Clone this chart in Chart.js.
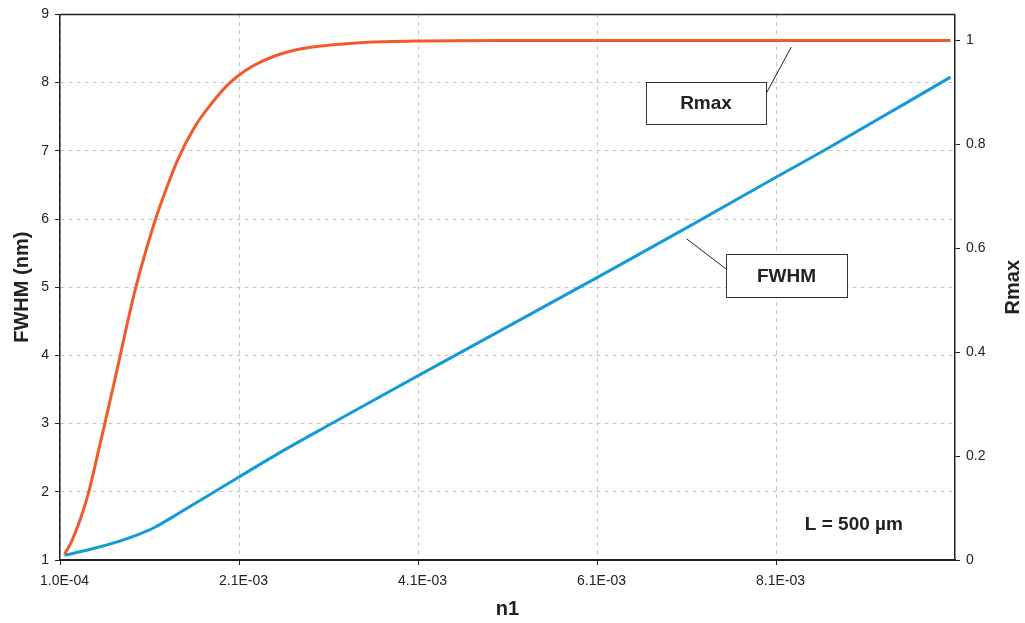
<!DOCTYPE html>
<html>
<head>
<meta charset="utf-8">
<script src="https://cdn.jsdelivr.net/npm/chart.js@4"></script>
<style>
  body { margin: 0; background: #fff; }
  canvas { display: block; }
</style>
</head>
<body>
<canvas id="fbgChart" width="1025" height="623"></canvas>
<script>
// Rmax (right axis)
const rmaxN1 = [1.0e-4, 1.8e-4, 2.9e-4, 3.7e-4, 4.8e-4, 5.5e-4, 6.6e-4, 8.9e-4, 11.1e-4,
  12.2e-4, 13.7e-4, 15.6e-4, 17.5e-4, 19.1e-4, 20.4e-4, 22.3e-4, 24.5e-4, 26.9e-4,
  30.7e-4, 34.4e-4, 40.4e-4, 50e-4, 60e-4, 70e-4, 80e-4, 90e-4, 100e-4];
const rmaxVal = [0.011, 0.036, 0.085, 0.130, 0.210, 0.262, 0.345, 0.520, 0.652,
  0.706, 0.772, 0.835, 0.880, 0.912, 0.932, 0.953, 0.970, 0.982,
  0.991, 0.996, 0.999, 1.0, 1.0, 1.0, 1.0, 1.0, 1.0];

// FWHM in nm (left axis)
const fwhmN1 = [1.0e-4, 3.7e-4, 7.0e-4, 9.0e-4, 11.1e-4, 13.2e-4, 16.1e-4, 20.4e-4, 25.4e-4, 30.7e-4,
  36.6e-4, 44.1e-4, 60.5e-4, 70.5e-4, 80.6e-4, 86.2e-4, 100e-4];
const fwhmVal = [1.07, 1.15, 1.27, 1.36, 1.48, 1.64, 1.87, 2.21, 2.60, 2.99,
  3.42, 3.96, 5.14, 5.87, 6.62, 7.03, 8.08];

const xTickValues = [0.5e-4, 20.5e-4, 40.5e-4, 60.5e-4, 80.5e-4];
const xTickLabels = ['1.0E-04', '2.1E-03', '4.1E-03', '6.1E-03', '8.1E-03'];
const leftTicks = [1, 2, 3, 4, 5, 6, 7, 8, 9];
const rightTicks = [0, 0.2, 0.4, 0.6, 0.8, 1];

const FONT = 'Liberation Sans, Arial, sans-serif';
const gridDash = { color: '#c4c4c4', tickColor: '#222', tickBorderDash: [], tickLength: 5 };

const overlay = {
  id: 'overlay',
  afterDraw(chart) {
    const { ctx, chartArea: a, scales } = chart;
    const x = v => scales.x.getPixelForValue(v);
    const y = v => scales.y.getPixelForValue(v);
    ctx.save();
    // top frame line
    ctx.strokeStyle = '#222';
    ctx.lineWidth = 1.5;
    ctx.beginPath();
    ctx.moveTo(a.left, a.top);
    ctx.lineTo(a.right, a.top);
    ctx.stroke();

    // leader lines
    ctx.lineWidth = 1;
    ctx.beginPath();
    ctx.moveTo(x(79.4e-4), y(7.84));
    ctx.lineTo(x(82.2e-4), y(8.52));
    ctx.moveTo(x(74.9e-4), y(5.27));
    ctx.lineTo(x(70.5e-4), y(5.71));
    ctx.stroke();

    ctx.font = 'bold 19px ' + FONT;
    ctx.textAlign = 'center';
    ctx.textBaseline = 'middle';

    // label boxes
    const box = (x0, x1, y0, y1, text) => {
      const px0 = Math.round(x(x0)), px1 = Math.round(x(x1));
      const py0 = Math.round(y(y0)), py1 = Math.round(y(y1));
      ctx.fillStyle = '#fff';
      ctx.fillRect(px0, py0, px1 - px0, py1 - py0);
      ctx.strokeStyle = '#333';
      ctx.strokeRect(px0 + 0.5, py0 + 0.5, px1 - px0, py1 - py0);
      ctx.fillStyle = '#222';
      ctx.fillText(text, (px0 + px1) / 2, (py0 + py1) / 2 + 1);
    };
    box(66.0e-4, 79.4e-4, 8.01, 7.39, 'Rmax');
    box(74.9e-4, 88.4e-4, 5.49, 4.86, 'FWHM');

    ctx.fillStyle = '#222';
    ctx.fillText('L = 500 µm', x(89.2e-4), y(1.51));

    // right axis title, reading bottom to top
    ctx.font = 'bold 20px ' + FONT;
    ctx.translate(1013, (a.top + a.bottom) / 2);
    ctx.rotate(-Math.PI / 2);
    ctx.fillText('Rmax', 0, 0);
    ctx.restore();
  }
};

new Chart(document.getElementById('fbgChart'), {
  type: 'line',
  data: {
    datasets: [{
      label: 'Rmax',
      data: rmaxN1.map((v, i) => ({ x: v, y: rmaxVal[i] })),
      yAxisID: 'y1',
      borderColor: '#F15A2B',
      borderWidth: 3,
      pointRadius: 0,
      cubicInterpolationMode: 'monotone',
    }, {
      label: 'FWHM',
      data: fwhmN1.map((v, i) => ({ x: v, y: fwhmVal[i] })),
      yAxisID: 'y',
      borderColor: '#139BD8',
      borderWidth: 3,
      pointRadius: 0,
      cubicInterpolationMode: 'monotone',
    }]
  },
  options: {
    responsive: false,
    animation: false,
    layout: { padding: { top: 14, left: 0, right: 0, bottom: 0 } },
    plugins: { legend: { display: false }, tooltip: { enabled: false } },
    scales: {
      x: {
        type: 'linear',
        min: 0.5e-4,
        max: 100.5e-4,
        afterBuildTicks: s => { s.ticks = xTickValues.map(v => ({ value: v })); },
        afterFit: s => { s.height = 63; },
        ticks: {
          color: '#222',
          font: { family: FONT, size: 14 },
          padding: 8,
          labelOffset: 4.5,
          maxRotation: 0,
          callback: (v, i) => xTickLabels[i],
        },
        grid: { ...gridDash },
        border: { color: '#222', width: 2, dash: [4, 4] },
        title: { display: true, text: 'n1', color: '#222', font: { family: FONT, size: 20, weight: 'bold' }, padding: { top: 0, bottom: 2 } },
      },
      y: {
        position: 'left',
        min: 1,
        max: 9,
        afterBuildTicks: s => { s.ticks = leftTicks.map(v => ({ value: v })); },
        afterFit: s => { s.width = 60; },
        ticks: { color: '#222', font: { family: FONT, size: 14 }, padding: 6 },
        grid: { ...gridDash },
        border: { color: '#222', width: 1.5, dash: [4, 4] },
        title: { display: true, text: 'FWHM (nm)', color: '#222', font: { family: FONT, size: 20, weight: 'bold' }, padding: { top: 10, bottom: 0 } },
      },
      y1: {
        position: 'right',
        min: 0,
        max: 1.05,
        afterBuildTicks: s => { s.ticks = rightTicks.map(v => ({ value: v })); },
        afterFit: s => { s.width = 70; },
        ticks: { color: '#222', font: { family: FONT, size: 14 }, padding: 6, callback: v => String(v) },
        grid: { drawOnChartArea: false, tickColor: '#222', tickLength: 5 },
        border: { color: '#222', width: 1.5 },
      }
    }
  },
  plugins: [overlay]
});
</script>
</body>
</html>
